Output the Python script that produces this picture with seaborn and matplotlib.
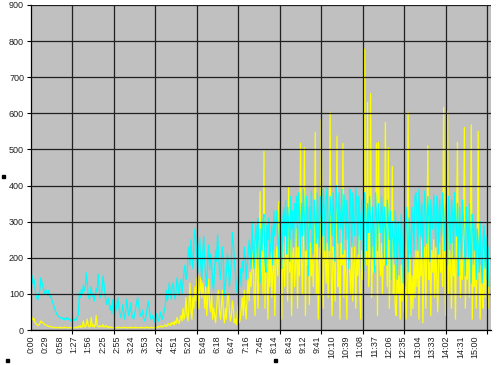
import numpy as np
import pandas as pd
import matplotlib
matplotlib.use("Agg")
import matplotlib.pyplot as plt
import seaborn as sns
from matplotlib.patches import Rectangle

# ---------------- data ----------------
time_labels = ["0:00", "0:29", "0:58", "1:27", "1:56", "2:25", "2:55", "3:24", "3:53",
               "4:22", "4:51", "5:20", "5:49", "6:18", "6:47", "7:16", "7:45", "8:14",
               "8:43", "9:12", "9:41", "10:10", "10:39", "11:08", "11:37", "12:06",
               "12:35", "13:04", "13:33", "14:02", "14:31", "15:00"]

cyan_series = [
    158, 150, 128, 140, 118, 95, 88, 84, 100, 112,
    145, 132, 120, 108, 100, 112, 104, 96, 110, 92,
    95, 85, 75, 68, 60, 52, 45, 40, 38, 35,
    33, 36, 30, 32, 28, 34, 30, 35, 29, 31,
    25, 28, 35, 30, 26, 32, 28, 38, 42,
    105, 90, 112, 98, 125, 108, 118, 158, 130, 95,
    85, 100, 120, 92, 100, 80, 96, 115, 105, 155,
    120, 90, 100, 110, 150, 125, 95, 80, 70, 90,
    75, 55, 68,
    45, 85, 60, 40, 55, 70, 90, 65, 45, 35,
    50, 70, 45, 30, 55, 85, 60, 40, 50, 75,
    45, 35, 30, 45, 60, 75, 90, 70, 50, 38,
    42, 55, 35, 25, 30, 45, 65, 80, 55, 35, 28, 40,
    30, 22, 35, 45, 28, 24, 38, 50, 35, 30,
    42, 55, 65, 110, 80, 95, 130, 105, 85, 120, 130,
    100, 85, 110, 145, 120, 95, 125, 140, 100, 130,
    160, 180, 140, 150, 205, 230, 180, 250, 200, 170, 240,
    280, 250, 200, 160, 230, 255, 180, 140, 210, 260,
    190, 150, 120, 200, 235, 165, 210, 180, 130, 110,
    170, 220, 190, 265, 210, 160, 140, 200, 230, 180,
    95, 130, 165, 210, 180, 120, 150, 200, 270, 240, 190, 160, 120,
    100, 150, 130, 170, 120, 190, 160, 230, 200, 140, 180, 210, 250, 220, 170,
    300, 220, 170, 250, 290, 200, 310, 240, 130, 280,
    220, 300, 320, 190, 160, 290, 250, 310, 200, 240,
    290, 180, 330, 260, 300,
    330, 250, 200, 350, 280, 170, 300, 340, 260, 360,
    210, 340, 300, 190, 370, 280, 330, 230, 350, 300, 370,
    230, 380, 320, 200, 350, 260, 390, 300, 220, 370,
    330, 150, 340, 280, 385, 250, 210, 360, 310, 240,
    380, 290, 230, 370, 320, 260, 390, 340, 220, 360,
    395, 300, 220, 370, 330, 260, 380, 310, 190, 400,
    350, 240, 380, 320, 280, 390, 210, 375, 330, 250,
    360, 300, 170, 390, 340, 230, 380, 300, 260, 395,
    350, 210, 370, 320, 250, 360, 290, 160, 380,
    330, 220, 350, 270, 370, 300, 200, 340, 280, 160,
    380, 320, 220, 350, 300, 270, 370, 320, 200, 340,
    290, 180, 360, 310, 250, 330, 140, 300, 260, 200,
    330, 280, 140, 300, 250, 200, 320, 260, 130, 290,
    230, 340, 280, 160, 310, 260, 200, 340, 290, 220, 370,
    380, 300, 220, 390, 330, 260, 350, 200, 300, 385,
    330, 240, 370, 310, 190, 360, 300, 280, 375, 320,
    230, 370, 340, 210, 360,
    300, 260, 380, 320, 220, 350, 300, 180, 370, 310,
    240, 360, 320, 200, 380, 300, 260, 350, 150, 340,
    280, 200, 360, 310, 240,
    150, 340, 290, 200, 350, 260, 130, 320, 280, 220,
    300, 140, 280, 240, 160, 300, 200, 130, 250,
    290, 170, 260, 140, 230, 120,
]

yellow_series = [
    38, 35, 28, 32, 22, 18, 15, 12, 14, 18,
    25, 22, 20, 18, 15, 14, 12, 12, 10, 9,
    10, 8, 8, 7, 6, 8, 7, 6, 6, 8,
    6, 7, 6, 6, 8, 6, 7, 6, 6, 7,
    6, 7, 8, 6, 6, 7, 8, 6, 10,
    8, 12, 6, 9, 25, 10, 8, 14, 30, 12,
    8, 10, 35, 10, 15, 8, 12, 40, 12, 10,
    8, 12, 10, 9, 15, 8, 10, 12, 8, 7,
    10, 6, 8,
    7, 6, 8, 6, 7, 6, 8, 6, 7, 6,
    6, 7, 6, 8, 6, 7, 6, 6, 8, 6,
    7, 6, 6, 8, 6, 7, 6, 6, 7, 6,
    8, 6, 7, 6, 6, 8, 6, 7, 6, 6, 8, 6,
    6, 7, 8, 6, 7, 10, 8, 9, 12, 8,
    10, 12, 15, 10, 12, 18, 14, 12, 20, 16, 22,
    14, 25, 18, 35, 22, 18, 30, 40, 25, 60,
    30, 45, 90, 40, 25, 70, 130, 50, 30, 90, 60,
    120, 80, 140, 150, 60, 110, 145, 90, 130, 100,
    60, 120, 40, 90, 140, 70, 50, 100, 30, 60,
    40, 20, 60, 100, 110, 50, 30, 70, 110, 40,
    20, 60, 30, 90, 100, 50, 25, 40, 80, 60, 20, 30, 15,
    50, 70, 20, 30, 60, 90, 40, 110, 60, 30, 100, 140, 80, 160, 120,
    180, 220, 100, 40, 250, 150, 60, 200, 383, 160,
    240, 100, 495, 60, 230, 180, 30, 200, 120, 250,
    90, 160, 220, 40, 180,
    230, 150, 355, 100, 200, 30, 240, 180, 120, 260,
    210, 80, 397, 160, 250, 40, 200, 230, 120, 180, 280,
    60, 230, 150, 517, 200, 100, 250, 505, 40, 220,
    180, 300, 70, 240, 150, 200, 120, 230, 547, 100,
    250, 30, 180, 220, 583, 150, 60, 260, 200, 130,
    240, 90, 210, 603, 160, 40, 230, 190, 80, 250,
    537, 120, 200, 30, 240, 180, 517, 90, 220, 150,
    30, 250, 200, 160, 100, 240, 80, 180, 230, 60,
    200, 150, 260, 120, 30, 220, 140, 200, 778,
    240, 180, 630, 120, 200, 655, 90, 230, 160, 250,
    180, 517, 40, 520, 200, 150, 240, 100, 210, 180,
    575, 250, 120, 505, 60, 200, 150, 453, 100, 180,
    60, 40, 200, 100, 150, 30, 180, 80, 210, 50,
    120, 30, 160, 603, 100, 210, 40, 150, 60, 200, 90,
    220, 120, 260, 30, 200, 150, 250, 20, 180, 230,
    60, 240, 510, 140, 200, 40, 220, 160, 250, 90,
    230, 150, 50, 200, 240,
    160, 200, 120, 616, 180, 40, 250, 605, 100, 220,
    180, 60, 240, 150, 200, 30, 250, 520, 160, 240,
    90, 200, 140, 230, 561,
    60, 200, 140, 250, 90, 210, 568, 30, 180, 120,
    230, 60, 200, 550, 140, 30, 180, 100, 60,
    220, 90, 240, 150, 60, 200,
]

y_ticks = [0, 100, 200, 300, 400, 500, 600, 700, 800, 900]

# ---------------- layout / style ----------------
STEP = 2          # categories per stored sample
LABEL_EVERY = 29  # categories between tick labels
GRID_EVERY = 84   # categories between vertical gridlines
X_MAX = 932

sns.set_theme(style="white")
plt.rcParams["font.family"] = ["Liberation Sans", "DejaVu Sans"]

fig = plt.figure(figsize=(5.0, 3.65), dpi=100)
ax = fig.add_axes([31 / 500, (365 - 330) / 365, 460 / 500, 325 / 365])
ax.set_facecolor("#C0C0C0")

df_y = pd.DataFrame({"x": np.arange(len(yellow_series)) * STEP, "v": yellow_series})
df_c = pd.DataFrame({"x": np.arange(len(cyan_series)) * STEP, "v": cyan_series})

sns.lineplot(data=df_y, x="x", y="v", ax=ax, color="#FFFF00", lw=0.9,
             estimator=None, sort=False)
sns.lineplot(data=df_c, x="x", y="v", ax=ax, color="#00FFFF", lw=0.9,
             estimator=None, sort=False)

ax.set_xlim(0, X_MAX)
ax.set_ylim(0, 900)
ax.set_xlabel("")
ax.set_ylabel("")

# y axis
ax.set_yticks(y_ticks)
ax.set_yticklabels([str(v) for v in y_ticks])
ax.yaxis.grid(True, color="#202020", lw=0.9)
ax.tick_params(axis="y", length=3, width=0.8, color="black", labelsize=6.5,
               pad=2, labelcolor="#202020", left=True)

# x axis: labels at major ticks, gridlines at minor ticks
ax.set_xticks([i * LABEL_EVERY for i in range(len(time_labels))])
ax.set_xticklabels(time_labels, rotation=90)
ax.tick_params(axis="x", which="major", length=0, labelsize=6.5, pad=4,
               labelcolor="#202020")
ax.set_xticks([i * GRID_EVERY for i in range(12)], minor=True)
ax.tick_params(axis="x", which="minor", length=3, width=0.8, color="black",
               bottom=True)
ax.xaxis.grid(True, which="minor", color="#202020", lw=0.9)
ax.xaxis.grid(False, which="major")
ax.set_axisbelow(False)
for line in ax.get_xgridlines() + ax.get_ygridlines():
    line.set_zorder(0.5)

for s in ["top", "right"]:
    ax.spines[s].set_visible(False)
for s in ["left", "bottom"]:
    ax.spines[s].set_color("black")
    ax.spines[s].set_linewidth(0.9)

# small stray marks seen in the reference
for (px, py) in [(2, 175), (6, 359), (274, 359)]:
    fig.add_artist(Rectangle((px / 500, 1 - (py + 3) / 365), 3 / 500, 3 / 365,
                             transform=fig.transFigure, color="black"))

fig.savefig("out.png", dpi=100)
